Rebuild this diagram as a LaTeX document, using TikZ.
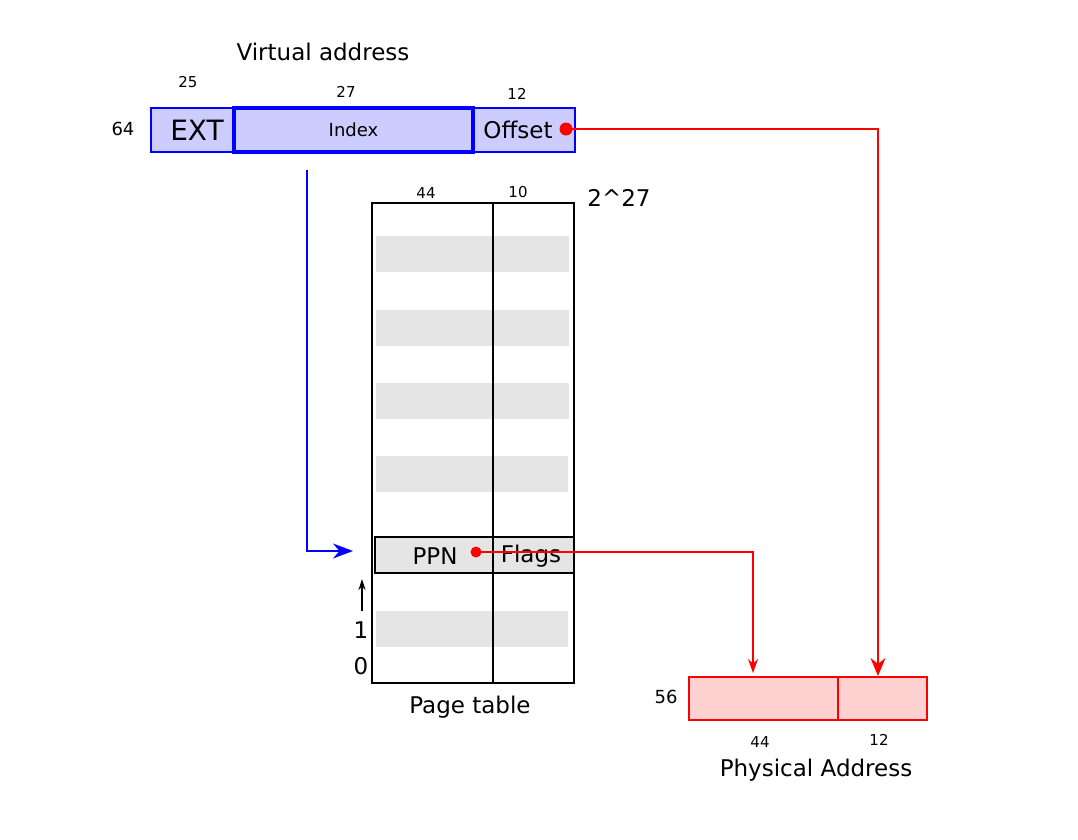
\documentclass[tikz,border=0pt]{standalone}
\usepackage{fontspec}
\setmainfont{DejaVu Sans}
\usetikzlibrary{arrows.meta,positioning,calc}

\begin{document}
\begin{tikzpicture}[
  x=1pt, y=-1pt,
  vcell/.style={
    rectangle, draw=blue, fill=blue!20, line width=1.5pt,
    inner sep=0pt, outer sep=0pt, minimum height=44pt
  },
  pcell/.style={
    rectangle, draw=red, fill=red!18, line width=1.6pt,
    inner sep=0pt, outer sep=0pt, minimum height=43pt
  },
  shade/.style={fill=black!10, draw=none},
  txt/.style={font=\fontsize{23}{26}\selectfont, inner sep=0pt},
  num/.style={font=\fontsize{15}{18}\selectfont, inner sep=0pt},
  dot/.style={circle, fill=red, inner sep=0pt, minimum size=13pt},
  bluearr/.style={-{Stealth[length=20pt, width=15pt]}, blue, line width=1.6pt},
  redbig/.style={-{Stealth[length=18pt, width=15pt]}, red, line width=1.8pt},
  redsmall/.style={-{Stealth[length=14pt, width=10pt]}, red, line width=1.4pt}
]
\useasboundingbox (0,0) rectangle (1078,839);

% ---- Virtual address ----
\node[txt] (vtitle) at (323,52) {Virtual address};
\node[vcell, minimum width=83pt]  (ext) at (192.5,130) {};
\node[vcell, minimum width=102pt] (ofs) at (524,130) {};
\node[vcell, minimum width=239pt, line width=3.2pt] (idx) at (353.5,130)
  {\fontsize{18}{20}\selectfont Index};
\node[txt, font=\fontsize{28}{30}\selectfont] (exttxt) at (197,130) {EXT};
\node[txt] (ofstxt) at (518,130) {Offset};
\node[dot] (ofsdot) at (566,129) {};
\node[num, font=\fontsize{18}{20}\selectfont] (vlen) at (123,129) {64};
\node[num] (extw) at (188,82) {25};
\node[num] (idxw) at (346,92) {27};
\node[num] (ofsw) at (517,94) {12};

% ---- Page table rows ----
\foreach \y/\r in {254/569, 328/569, 401/569, 474/568, 629/568} {
  \fill[shade] (376,\y-18) rectangle (\r,\y+18);
}
\node[rectangle, draw=black, fill=black!10, line width=1.6pt, inner sep=0pt,
      minimum width=199pt, minimum height=36pt] (entry) at (474.5,555) {};
\node[rectangle, draw=black, line width=2.8pt, inner sep=0pt,
      minimum width=202pt, minimum height=480pt] (ptab) at (473,443) {};
\draw[line width=2.8pt] (ptab.north -| 493,0) -- (ptab.south -| 493,0);
\node[txt] (ppn)   at (435,556) {PPN};
\node[txt] (flags) at (531,556) {Flags};
\node[dot, minimum size=11pt] (ppndot) at (476,552) {};
\node[num] (ppnw) at (426,193) {44};
\node[num] (flgw) at (518,192) {10};
\node[txt] (size) at (619,198) {2\^{}27};
\node[txt] (one)  at (361,630) {1};
\node[txt] (zero) at (361,666) {0};
\node[txt] (ptitle) at (470,707) {Page table};
\coordinate (upfrom) at (362,611);
\coordinate (upto)   at (362,579);
\draw[-{Stealth[length=11pt, width=7pt]}, line width=1.4pt] (upfrom) -- (upto);

% ---- Physical address ----
\node[pcell, minimum width=149pt] (pppn) at (763.5,698.5) {};
\node[pcell, minimum width=89pt]  (pofs) at (882.5,698.5) {};
\node[num, font=\fontsize{18}{20}\selectfont] (plen) at (666,697) {56};
\node[num] (pppnw) at (760,742) {44};
\node[num] (pofsw) at (879,740) {12};
\node[txt] (pptitle) at (816,770) {Physical Address};

% ---- Connectors ----
\coordinate (idxout) at (307,170);
\coordinate (entryin) at (353,551);
\draw[bluearr] (idxout) |- (entryin);

\coordinate (ofsin) at (878,676);
\draw[redbig] (ofsdot.center) -| (ofsin);

\coordinate (ppnin) at (753,673);
\draw[redsmall] (ppndot.center) -| (ppnin);

\end{tikzpicture}
\end{document}
